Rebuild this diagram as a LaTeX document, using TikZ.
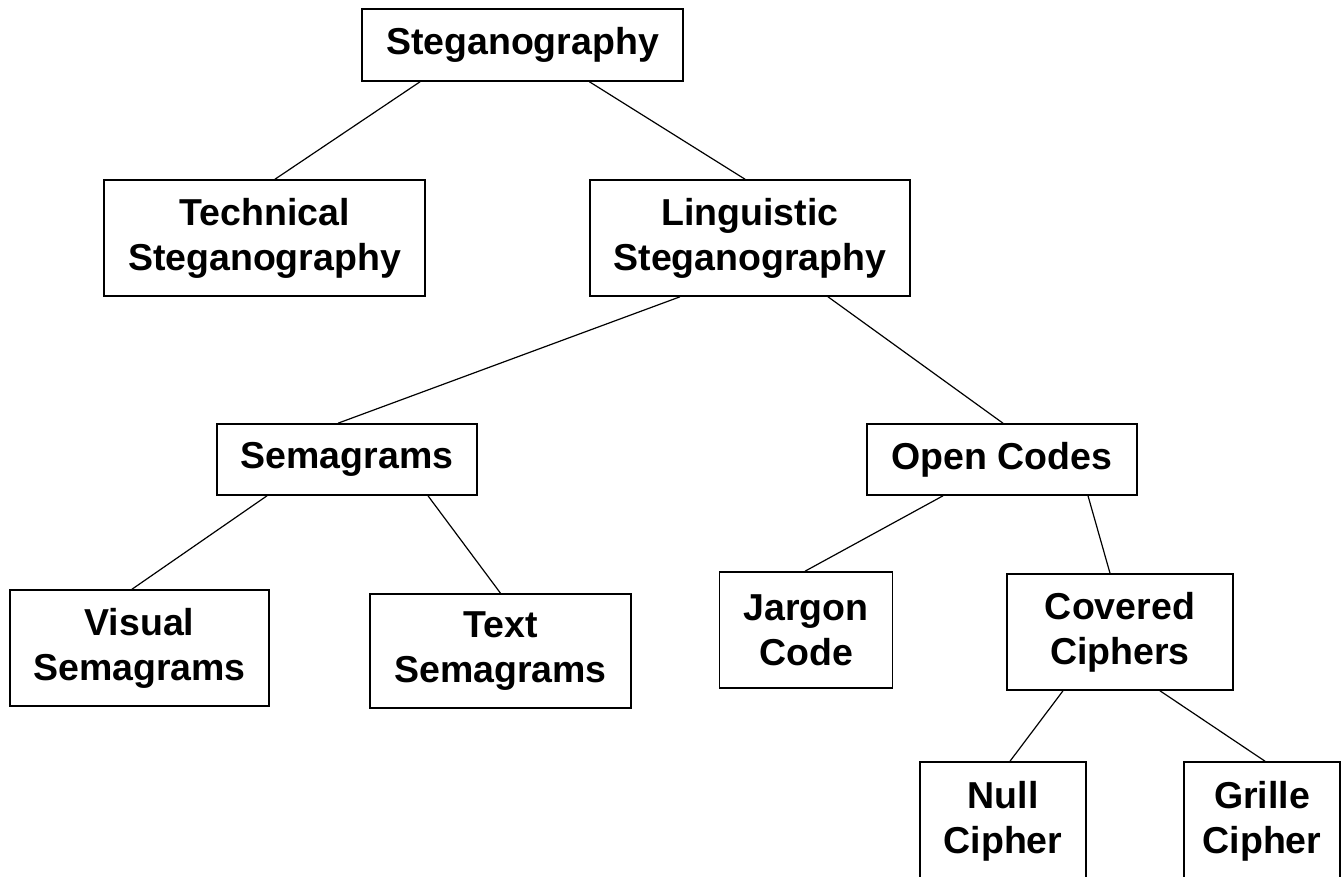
\documentclass[tikz,border=0pt]{standalone}
\usepackage{fontspec}
\setmainfont{Liberation Sans}
\usepackage{tikz}
\usetikzlibrary{positioning}
\tikzset{
	every node/.style = {font=\fontsize{37.5}{45}\selectfont\bfseries, inner sep = 0, align=center},
	box/.style = {draw, rectangle, line width=1.6pt},
	link/.style = {line width=1.2pt}
}

\begin{document}
\begin{tikzpicture}[x=1pt, y=-1pt]
		\useasboundingbox (0,0) rectangle (1342,876);
		
		\node[box, minimum width=321, minimum height=72] (steg) at (522.5,45) {Steganography};
		
		\node[box, minimum width=321, minimum height=116] (tech) at (264.5,238) {Technical\\Steganography};
		\node[box, minimum width=320, minimum height=116] (ling) at (750,238) {Linguistic\\Steganography};
		
		\node[box, minimum width=260, minimum height=71] (sema) at (347,459.5) {Semagrams};
		\node[box, minimum width=270, minimum height=71] (open) at (1002,459.5) {Open Codes};
		
		\node[box, minimum width=259, minimum height=116] (visual) at (139.5,648) {Visual\\Semagrams};
		\node[box, minimum width=261, minimum height=114] (text) at (500.5,651) {Text\\Semagrams};
		\node[box, minimum width=173, minimum height=116] (jargon) at (806,630) {Jargon\\Code};
		\node[box, minimum width=226, minimum height=116] (covered) at (1120,632) {Covered\\Ciphers};
		
		\node[box, minimum width=166, minimum height=118] (null) at (1003,821) {Null\\Cipher};
		\node[box, minimum width=156, minimum height=118] (grille) at (1262,821) {Grille\\Cipher};
		
		\draw[link] ([xshift=-102.5pt]steg.south) -- ([xshift=10.5pt]tech.north);
		\draw[link] ([xshift=67pt]steg.south) -- ([xshift=-5pt]ling.north);
		\draw[link] ([xshift=-70pt]ling.south) -- ([xshift=-9pt]sema.north);
		\draw[link] ([xshift=78pt]ling.south) -- ([xshift=1pt]open.north);
		\draw[link] ([xshift=-80pt]sema.south) -- ([xshift=-7.5pt]visual.north);
		\draw[link] ([xshift=81pt]sema.south) -- (text.north);
		\draw[link] ([xshift=-59pt]open.south) -- ([xshift=-1pt]jargon.north);
		\draw[link] ([xshift=86pt]open.south) -- ([xshift=-10pt]covered.north);
		\draw[link] ([xshift=-57pt]covered.south) -- ([xshift=7pt]null.north);
		\draw[link] ([xshift=40pt]covered.south) -- ([xshift=3pt]grille.north);
\end{tikzpicture}
\end{document}
